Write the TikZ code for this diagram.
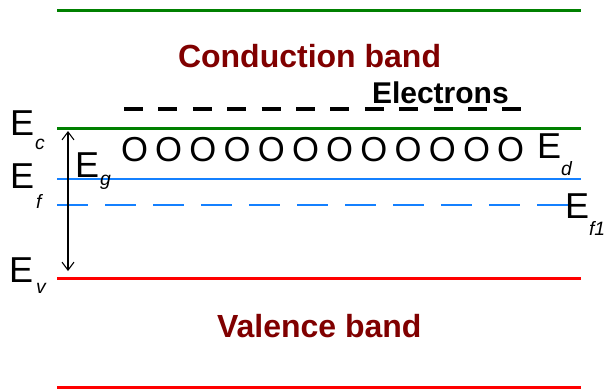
\documentclass[tikz,border=0pt]{standalone}
\usepackage{fontspec}
\setmainfont{Liberation Sans}
\usetikzlibrary{arrows.meta}
\definecolor{bandgreen}{RGB}{0,128,0}
\definecolor{bandred}{RGB}{255,0,0}
\definecolor{bandblue}{RGB}{20,128,255}
\definecolor{darkband}{RGB}{128,0,0}
\tikzset{
  lbl/.style={anchor=base west,inner sep=0pt,outer sep=0pt},
  bigE/.style={lbl,font=\fontsize{27}{30}\selectfont},
  subs/.style={lbl,font=\fontsize{14.5}{16}\selectfont\itshape},
  bandtxt/.style={lbl,font=\fontsize{24}{28}\selectfont\bfseries,text=darkband},
  oletter/.style={anchor=center,inner sep=0pt,outer sep=0pt,font=\fontsize{26}{28}\selectfont},
  gline/.style={draw=bandgreen,line width=2.25pt},
  rline/.style={draw=bandred,line width=2.25pt},
  bline/.style={draw=bandblue,line width=1.2pt},
}
\begin{document}
\begin{tikzpicture}[x=0.75pt,y=-0.75pt]
\useasboundingbox (0,0) rectangle (605,390);
% band edges
\draw[gline] (57,10) -- (581,10);
\draw[gline] (57,128) -- (581,128);
\draw[bline] (57,179) -- (581,179);
\draw[bline,dash pattern=on 23.25pt off 12.75pt] (57,205) -- (568,205);
\draw[rline] (57,278) -- (581,278);
\draw[rline] (57,387) -- (581,387);
% electrons dashes
\draw[line width=3pt,dash pattern=on 14.25pt off 11.55pt] (124,109) -- (522,109);
% texts
\node[bandtxt] (cb) at (178,67) {Conduction band};
\node[bandtxt] (vb) at (217,337) {Valence band};
\node[lbl,font=\fontsize{22.5}{26}\selectfont\bfseries] (el) at (372,103) {Electrons};
\foreach \i in {0,...,11}{
  \node[oletter] (o\i) at ({134.5+34.2*\i},150) {O};
}
% labels
\node[bigE] (Ec) at (10,135) {E};
\node[subs] (c) at (35,149) {c};
\node[bigE] (Ef) at (10,188) {E};
\node[subs] (f) at (36,208) {f};
\node[bigE] (Ev) at (9,282) {E};
\node[subs] (v) at (36,293) {v};
\node[bigE] (Eg) at (75,177) {E};
\node[subs] (g) at (100,185) {g};
\node[bigE] (Ed) at (537,158) {E};
\node[subs] (d) at (561,175) {d};
\node[bigE] (Ef1) at (565,218) {E};
\node[subs] (f1) at (589,235) {f1};
% band gap arrow
\coordinate (gtop) at (68,131);
\coordinate (gbot) at (68,271);
\draw[line width=0.8pt,{Straight Barb[length=6pt,width=9pt]}-{Straight Barb[length=6pt,width=9pt]}] (gtop) -- (gbot);
\end{tikzpicture}
\end{document}
